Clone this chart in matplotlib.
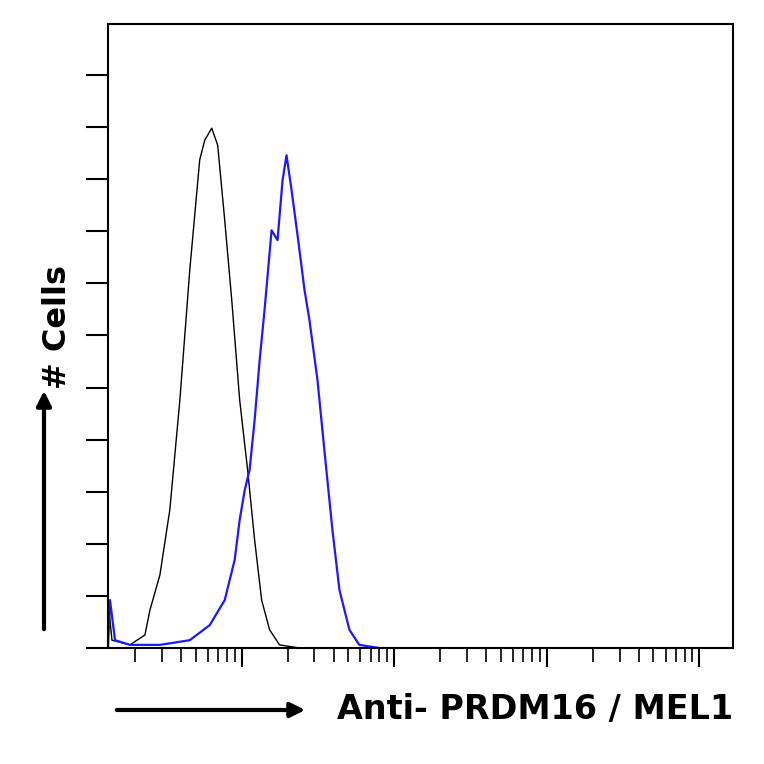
import numpy as np
import matplotlib
matplotlib.use("Agg")
import matplotlib.pyplot as plt
from matplotlib.ticker import LogLocator, NullFormatter

# log10 fluorescence intensity vs cell count (tick units)
ctrl_log = [0.124, 0.150, 0.268, 0.366, 0.399, 0.464, 0.529, 0.595, 0.660, 0.725, 0.758,
            0.804, 0.843, 0.889, 0.935, 0.987, 1.039, 1.085, 1.131, 1.183, 1.248, 1.379, 1.575]
ctrl_cnt = [0.92, 0.15, 0.06, 0.25, 0.73, 1.40, 2.65, 4.76, 7.26, 9.37, 9.75,
            9.98, 9.65, 8.21, 6.68, 4.76, 3.42, 2.07, 0.92, 0.35, 0.06, 0.0, 0.0]

ab_log = [0.124, 0.137, 0.170, 0.268, 0.464, 0.660, 0.791, 0.889, 0.954, 0.987, 1.020, 1.052,
          1.085, 1.118, 1.150, 1.196, 1.235, 1.268, 1.294, 1.327, 1.366, 1.412, 1.444,
          1.497, 1.542, 1.595, 1.641, 1.706, 1.771, 1.902]
ab_cnt = [0.0, 0.92, 0.15, 0.06, 0.06, 0.15, 0.44, 0.92, 1.69, 2.46, 3.03, 3.42,
          4.38, 5.53, 6.49, 8.02, 7.83, 8.98, 9.46, 8.79, 7.93, 6.87, 6.30,
          5.14, 3.80, 2.26, 1.11, 0.35, 0.06, 0.0]

fig = plt.figure(figsize=(7.64, 7.64), dpi=100)
ax = fig.add_axes([108 / 764, 1 - 648 / 764, 625 / 764, 624 / 764])

ax.plot(10 ** np.array(ctrl_log), ctrl_cnt, color="black", lw=1.0)
ax.plot(10 ** np.array(ab_log), ab_cnt, color="#1a1aff", lw=1.6)

ax.set_xscale("log")
ax.set_xlim(10 ** 0.124, 10 ** 4.22)
ax.set_ylim(0, 11.98)
ax.xaxis.set_major_locator(LogLocator(base=10, numticks=10))
ax.xaxis.set_minor_locator(LogLocator(base=10, subs=np.arange(2, 10), numticks=20))
ax.xaxis.set_major_formatter(NullFormatter())
ax.xaxis.set_minor_formatter(NullFormatter())
ax.tick_params(axis="x", which="major", length=14, width=1.5, direction="out")
ax.tick_params(axis="x", which="minor", length=10, width=1.2, direction="out")
ax.set_yticks(np.arange(0, 12))
ax.set_yticklabels([])
ax.tick_params(axis="y", length=16, width=1.5, direction="out")
for s in ax.spines.values():
    s.set_linewidth(1.5)

fig.text(58 / 764, 1 - 327 / 764, "# Cells", rotation=90, fontsize=23,
         fontweight="bold", ha="center", va="center")
fig.add_artist(matplotlib.patches.FancyArrowPatch(
    (44 / 764, 1 - 632 / 764), (44 / 764, 1 - 388 / 764), transform=fig.transFigure,
    arrowstyle="-|>", mutation_scale=22, lw=3, color="black"))
fig.add_artist(matplotlib.patches.FancyArrowPatch(
    (114 / 764, 1 - 710 / 764), (308 / 764, 1 - 710 / 764), transform=fig.transFigure,
    arrowstyle="-|>", mutation_scale=22, lw=3, color="black"))
fig.text(733 / 764, 1 - 710 / 764, "Anti- PRDM16 / MEL1", fontsize=24,
         fontweight="bold", ha="right", va="center")

fig.savefig("out.png", dpi=100)
